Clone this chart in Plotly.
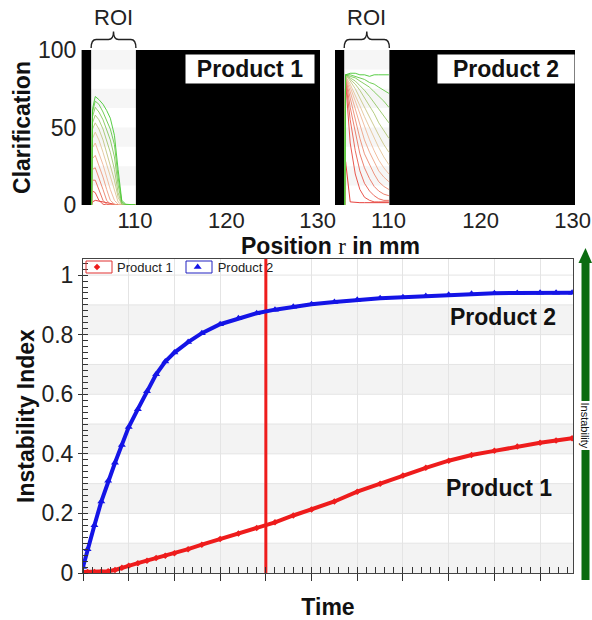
import plotly.graph_objects as go

# ---------------- data ----------------
# Top panels: clarification profiles (position in mm, clarification in %)
roi = [105.2, 110.1]
pos_range = [104.2, 130.25]
pos_ticks = [110, 120, 130]
clar_ticks = [0, 50, 100]

p1_x = [105.25, 105.35, 105.65, 106.05, 106.5, 106.9, 107.3, 107.75, 108.15, 108.55, 109.0, 110.05]
p1_profiles = [
    [0, 2, 3, 2.5, 2, 1.5, 1, 0.5, 0, 0, 0, 0],
    [0, 9, 8, 3, 0.5, 0, 0, 0, 0, 0, 0, 0],
    [0, 16, 16, 10, 3, 0.5, 0, 0, 0, 0, 0, 0],
    [0, 23, 24, 18, 10, 3, 0.5, 0, 0, 0, 0, 0],
    [0, 30, 32, 26, 18, 10, 3, 0.5, 0, 0, 0, 0],
    [0, 37, 40, 34, 26, 18, 10, 3, 0.5, 0, 0, 0],
    [0, 43, 47, 42, 34, 26, 18, 9, 2, 0, 0, 0],
    [0, 49, 53, 49, 42, 34, 26, 16, 5, 0.5, 0, 0],
    [0, 53, 58, 55, 49, 42, 34, 23, 8, 0.5, 0, 0],
    [0, 57, 63, 60, 55, 49, 42, 31, 13, 1, 0, 0],
    [0, 60, 67, 65, 60, 55, 49, 39, 18, 2, 0, 0],
    [0, 62, 70, 68, 65, 61, 56, 45, 23, 3, 0.5, 0],
]

p2_x = [105.25, 105.35, 105.85, 106.4, 106.9, 107.4, 107.95, 108.45, 108.95, 109.5, 110.05]
p2_profiles = [
    [0, 28, 2, 1.5, 1.5, 1.5, 1.5, 1.5, 1.5, 1.5, 1.5],
    [0, 80, 40, 20, 10, 5, 3, 2, 2, 2, 2],
    [0, 81, 55, 35, 22, 14, 9, 6, 4, 3, 3],
    [0, 82, 63, 46, 33, 24, 17, 12, 9, 7, 6],
    [0, 82, 69, 55, 43, 33, 26, 20, 15, 12, 10],
    [0, 83, 73, 62, 51, 42, 34, 28, 22, 18, 15],
    [0, 83, 76, 67, 58, 50, 42, 35, 29, 24, 20],
    [0, 83, 78, 71, 64, 57, 50, 43, 37, 31, 26],
    [0, 84, 80, 75, 69, 63, 57, 51, 45, 39, 34],
    [0, 84, 81, 78, 74, 69, 64, 59, 53, 48, 43],
    [0, 84, 82, 80, 77, 74, 70, 66, 62, 57, 53],
    [0, 84, 83, 82, 80, 78, 76, 73, 70, 67, 63],
    [0, 84, 84, 83, 82, 81, 79, 78, 76, 74, 72],
    [0, 84, 85, 85, 84, 84, 83, 84, 84, 84, 84],
]

# Bottom panel: instability index over time (arbitrary time units)
time = [0, 0.1, 0.25, 0.4, 0.55, 0.7, 0.85, 1.0, 1.2, 1.4, 1.6, 1.8, 2.0, 2.3, 2.6, 3.0, 3.4,
        3.8, 4.2, 4.6, 5.0, 5.5, 6.0, 6.5, 7.0, 7.5, 8.0, 8.5, 9.0, 9.5, 10.0, 10.35, 10.7]
product1 = [0.003, 0.003, 0.003, 0.004, 0.006, 0.010, 0.018, 0.024, 0.033, 0.041, 0.050, 0.058,
            0.066, 0.080, 0.095, 0.114, 0.133, 0.151, 0.170, 0.193, 0.213, 0.240, 0.273, 0.300,
            0.327, 0.353, 0.377, 0.396, 0.410, 0.425, 0.437, 0.445, 0.452]
product2 = [0.02, 0.08, 0.16, 0.24, 0.31, 0.37, 0.43, 0.49, 0.55, 0.61, 0.667, 0.71, 0.74, 0.775,
            0.805, 0.835, 0.855, 0.872, 0.884, 0.894, 0.902, 0.910, 0.917, 0.922, 0.926, 0.930,
            0.934, 0.937, 0.939, 0.940, 0.941, 0.941, 0.941]
marker_time = 4.0
time_range = [0, 10.72]
index_range = [0, 1.054]
index_ticks = [0, 0.2, 0.4, 0.6, 0.8, 1]
index_ticktext = ["0", "0.2", "0.4", "0.6", "0.8", "1"]

# ---------------- styling helpers ----------------
FONT = "Liberation Sans, Arial, sans-serif"
W, H = 592, 620
RED = "#ee1c1c"
BLUE = "#1414e6"
GREEN = "#0b6b10"


def px_x(p):
    return p / W


def px_y(p):
    return 1 - p / H


def grad(t):
    stops = [(0.0, (228, 45, 40)), (0.5, (240, 196, 160)), (1.0, (70, 200, 50))]
    for (t0, c0), (t1, c1) in zip(stops[:-1], stops[1:]):
        if t <= t1:
            f = (t - t0) / (t1 - t0)
            c = [round(a + (b - a) * f) for a, b in zip(c0, c1)]
            return f"rgb({c[0]},{c[1]},{c[2]})"
    return "rgb(70,200,50)"


fig = go.Figure()

for prof_set, xs, xa, ya in [(p1_profiles, p1_x, "x", "y"), (p2_profiles, p2_x, "x2", "y2")]:
    n = len(prof_set)
    for i, ys in enumerate(prof_set):
        fig.add_trace(go.Scatter(
            x=xs, y=ys, mode="lines", xaxis=xa, yaxis=ya, showlegend=False,
            line=dict(color=grad(i / (n - 1)), width=0.9), hoverinfo="skip"))

# series lines (no legend) + markers (legend shows marker only)
for name, ys, col, sym, sz in [("Product 1", product1, RED, "diamond", 5),
                               ("Product 2", product2, BLUE, "triangle-up", 7)]:
    fig.add_trace(go.Scatter(x=time, y=ys, mode="lines", xaxis="x3", yaxis="y3", showlegend=False,
                             legendgroup=name, line=dict(color=col, width=4), hoverinfo="skip"))
    fig.add_trace(go.Scatter(x=time, y=ys, mode="markers", name=name, xaxis="x3", yaxis="y3",
                             legendgroup=name, marker=dict(symbol=sym, size=sz, color=col)))

top_dom_y = [px_y(205), px_y(50)]
common_top_x = dict(range=pos_range, tickvals=pos_ticks, showgrid=False, zeroline=False,
                    ticks="", showline=False, automargin=False,
                    tickfont=dict(size=22, color="#222", family=FONT))

fig.update_layout(
    width=W, height=H, autosize=False, margin=dict(l=0, r=0, t=0, b=0, autoexpand=False),
    paper_bgcolor="white", plot_bgcolor="white",
    font=dict(family=FONT, color="#111"),
    xaxis=dict(domain=[px_x(82), px_x(320)], anchor="y", **common_top_x),
    yaxis=dict(domain=top_dom_y, anchor="x", range=[0, 100], tickvals=clar_ticks, automargin=False,
               tickfont=dict(size=23, color="#222"), showgrid=False, zeroline=False,
               showline=True, linecolor="#999", linewidth=1, ticks="",
               title=dict(text="<b>Clarification</b>", font=dict(size=23, color="#111"), standoff=0)),
    xaxis2=dict(domain=[px_x(335), px_x(575)], anchor="y2", **common_top_x),
    yaxis2=dict(domain=top_dom_y, anchor="x2", range=[0, 100], showticklabels=False, automargin=False,
                showgrid=False, zeroline=False, showline=False, ticks=""),
    xaxis3=dict(domain=[px_x(83), px_x(573)], anchor="y3", range=time_range, dtick=1, tick0=0,
                showticklabels=False, ticks="outside", ticklen=7, tickcolor="#333", automargin=False,
                showgrid=True, gridcolor="#e4e4e4", zeroline=False,
                showline=True, mirror=True, linecolor="#444", linewidth=1,
                minor=dict(dtick=0.2, ticks="inside", ticklen=6, tickcolor="#333", showgrid=False),
                title=dict(text="<b>Time</b>", font=dict(size=23, color="#111"), standoff=19)),
    yaxis3=dict(domain=[px_y(573), px_y(259)], anchor="x3", range=index_range, automargin=False,
                tickvals=index_ticks, ticktext=index_ticktext,
                tickfont=dict(size=23, color="#222"), ticks="outside", ticklen=4, tickcolor="#333",
                showgrid=False, zeroline=False,
                showline=True, mirror=True, linecolor="#444", linewidth=1,
                minor=dict(dtick=0.02, tick0=0, ticks="inside", ticklen=5, tickcolor="#333",
                           showgrid=False),
                title=dict(text="<b>Instability Index</b>", font=dict(size=23, color="#111"), standoff=0)),
    legend=dict(orientation="h", x=px_x(77), y=px_y(252), xanchor="left", yanchor="top",
                bgcolor="rgba(0,0,0,0)", font=dict(size=13, color="#222"),
                itemwidth=30, traceorder="normal"),
)

shapes = []
# black areas outside the region of interest in the top panels
for xa, ya in [("x", "y"), ("x2", "y2")]:
    for x0, x1 in [(pos_range[0], roi[0]), (roi[1], pos_range[1])]:
        shapes.append(dict(type="rect", xref=xa, yref=ya, x0=x0, x1=x1, y0=0, y1=100,
                           fillcolor="black", line=dict(width=0), layer="between"))
    # light banding inside ROI
    for b in range(0, 100, 25):
        shapes.append(dict(type="rect", xref=xa, yref=ya, x0=roi[0], x1=roi[1], y0=b + 12.5, y1=b + 25,
                           fillcolor="#f6f6f6", line=dict(width=0), layer="below"))
    # ROI curly brace above the panel
    x0, x1 = roi
    xc = (x0 + x1) / 2
    d = 0.55
    yb, ym, yt = px_y(48), px_y(39.5), px_y(31.5)
    path = (f"M {x0},{yb} Q {x0},{ym} {x0 + d},{ym} L {xc - d},{ym} Q {xc},{ym} {xc},{yt} "
            f"Q {xc},{ym} {xc + d},{ym} L {x1 - d},{ym} Q {x1},{ym} {x1},{yb}")
    shapes.append(dict(type="path", xref=xa, yref="paper", path=path,
                       line=dict(color="#222", width=1.4)))

# alternating horizontal bands in the lower panel
for k in range(0, 10, 2):
    shapes.append(dict(type="rect", xref="x3 domain", yref="y3", x0=0, x1=1, y0=k / 10, y1=(k + 1) / 10,
                       fillcolor="#f3f3f3", line=dict(width=0), layer="below"))
for k in range(1, 11):
    shapes.append(dict(type="line", xref="x3 domain", yref="y3", x0=0, x1=1, y0=k / 10, y1=k / 10,
                       line=dict(color="#e4e4e4", width=1), layer="below"))
# vertical red marker line
shapes.append(dict(type="line", xref="x3", yref="y3", x0=marker_time, x1=marker_time,
                   y0=index_range[0], y1=index_range[1],
                   line=dict(color=RED, width=3), layer="between"))
# legend symbol boxes
for bx in [(86, 112, "#e03030"), (186, 212, "#2020c0")]:
    shapes.append(dict(type="rect", xref="paper", yref="paper", x0=px_x(bx[0]), x1=px_x(bx[1]),
                       y0=px_y(273), y1=px_y(261), line=dict(color=bx[2], width=1)))
# green instability arrow on the right
shapes.append(dict(type="line", xref="paper", yref="paper", x0=px_x(585.5), x1=px_x(585.5),
                   y0=px_y(580), y1=px_y(262), line=dict(color=GREEN, width=8)))
shapes.append(dict(type="path", xref="paper", yref="paper",
                   path=f"M {px_x(578.5)},{px_y(263)} L {px_x(585.5)},{px_y(248)} L {px_x(592)},{px_y(263)} Z",
                   fillcolor=GREEN, line=dict(width=0)))
fig.update_layout(shapes=shapes)

C = dict(xanchor="center", yanchor="middle", showarrow=False)
ann = []
for xa in ["x", "x2"]:
    ann.append(dict(text="ROI", xref=xa, yref="paper", x=(roi[0] + roi[1]) / 2, y=px_y(17),
                    font=dict(size=22, color="#222"), **C))
ann.append(dict(text="<b>Product 1</b>", xref="paper", yref="paper", x=px_x(250), y=px_y(68.5),
                bgcolor="white", width=126, height=26, font=dict(size=23, color="#111"), **C))
ann.append(dict(text="<b>Product 2</b>", xref="paper", yref="paper", x=px_x(506), y=px_y(68.5),
                bgcolor="white", width=134, height=26, font=dict(size=23, color="#111"), **C))
ann.append(dict(text="<b>Position </b><span style='font-family:Liberation Serif'>r</span><b> in mm</b>",
                xref="paper", yref="paper", x=px_x(330), y=px_y(246),
                font=dict(size=23, color="#111"), **C))
ann.append(dict(text="<b>Product 2</b>", xref="paper", yref="paper", x=px_x(502.5), y=px_y(317),
                font=dict(size=23, color="#111"), **C))
ann.append(dict(text="<b>Product 1</b>", xref="paper", yref="paper", x=px_x(498.5), y=px_y(488),
                font=dict(size=23, color="#111"), **C))
ann.append(dict(text="Instability", xref="paper", yref="paper", x=px_x(584.5), y=px_y(425),
                textangle=90, bgcolor="white", borderpad=1,
                font=dict(size=11, color="#111"), **C))
fig.update_layout(annotations=ann)

fig.write_html("out.html", config={"displayModeBar": False, "responsive": False},
               post_script="document.body.style.margin='0px';document.body.style.overflow='hidden';")
